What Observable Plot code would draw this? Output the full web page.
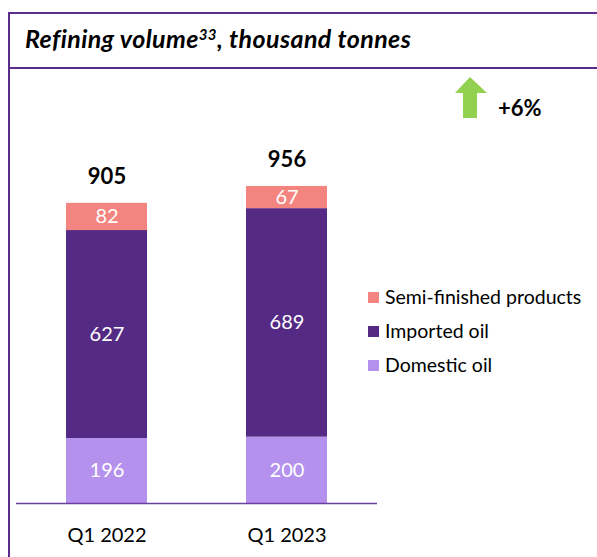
<!DOCTYPE html>
<html>
<head>
<meta charset="utf-8">
<script src="https://cdn.jsdelivr.net/npm/d3@7"></script>
<script src="https://cdn.jsdelivr.net/npm/@observablehq/plot@0.6"></script>
<style>
  html, body { margin: 0; padding: 0; background: #fff; }
  body { width: 597px; height: 557px; position: relative; overflow: hidden; font-family: Lato, "Open Sans", sans-serif; }
  .line { position: absolute; background: #5A2D8C; }
  #title { position: absolute; left: 25px; top: 26px; font-size: 25px; letter-spacing: 0.4px; line-height: 1; font-weight: bold; font-style: italic; color: #000; white-space: nowrap; }
  #title sup { font-size: 0.6em; vertical-align: 0; position: relative; top: -0.55em; }
  #chart { position: absolute; left: 10px; top: 69px; }
  #legend { position: absolute; left: 368px; top: 286px; font-size: 19.5px; color: #000; }
  .item { position: absolute; left: 0; white-space: nowrap; height: 24px; }
  .sw { position: absolute; left: 0; top: 6px; width: 11px; height: 11px; }
  .lab { position: absolute; left: 17px; top: 1px; line-height: 1; }
  #arrow { position: absolute; left: 0; top: 0; }
  #growth { position: absolute; left: 498px; top: 97px; font-size: 22px; font-weight: bold; line-height: 1; }
</style>
</head>
<body>
<div class="line" style="left:8px; top:12px; right:0; height:2px;"></div>
<div class="line" style="left:8px; top:12px; width:2px; bottom:0;"></div>
<div class="line" style="left:8px; top:67px; right:0; height:2px;"></div>
<div id="title">Refining volume<sup>33</sup>, thousand tonnes</div>
<div id="chart"></div>
<div id="legend"></div>
<svg id="arrow" width="597" height="557"><polygon points="470,77 487,93 477,93 477,118 463,118 463,93 455,93" fill="#92D050"/></svg>
<div id="growth">+6%</div>
<script>
const periods = ["Q1 2022", "Q1 2023"];
const seriesNames = ["Domestic oil", "Imported oil", "Semi-finished products"];
const domesticOil = [196, 200];
const importedOil = [627, 689];
const semiFinished = [82, 67];
const seriesColors = ["#B591EE", "#552A84", "#F4847F"];
const legendOrder = ["Semi-finished products", "Imported oil", "Domestic oil"];

const seriesValues = [domesticOil, importedOil, semiFinished];
const data = [];
seriesNames.forEach((s, si) => {
  periods.forEach((p, pi) => data.push({period: p, series: s, value: seriesValues[si][pi]}));
});

const chart = Plot.plot({
  width: 587,
  height: 488,
  marginLeft: 6,
  marginRight: 220,
  marginTop: 36,
  marginBottom: 54,
  style: {fontFamily: "Lato, 'Open Sans', sans-serif", background: "transparent", overflow: "visible"},
  x: {domain: periods, paddingInner: 0.548, paddingOuter: 0.2726, label: null},
  y: {domain: [0, 1200], axis: null},
  color: {domain: seriesNames, range: seriesColors},
  marks: [
    Plot.barY(data, {x: "period", y: "value", fill: "series", z: "series"}),
    Plot.text(data, Plot.stackY({x: "period", y: "value", z: "series", text: "value", fill: "white", fontSize: 20})),
    Plot.text(data, Plot.groupX({y: "sum", text: "sum"}, {x: "period", y: "value", text: "value", dy: -26, fontSize: 22, fontWeight: "bold", fill: "black"})),
    Plot.ruleY([0], {stroke: "#6A3FA0", strokeWidth: 1.5}),
    Plot.axisX({tickSize: 0, tickPadding: 24, fontSize: 20, fill: "black", label: null})
  ]
});
document.getElementById("chart").appendChild(chart);

const legend = document.getElementById("legend");
legendOrder.forEach((name, i) => {
  const item = document.createElement("div");
  item.className = "item";
  item.style.top = (i * 34) + "px";
  const sw = document.createElement("div");
  sw.className = "sw";
  sw.style.background = seriesColors[seriesNames.indexOf(name)];
  const lab = document.createElement("div");
  lab.className = "lab";
  lab.textContent = name;
  item.appendChild(sw);
  item.appendChild(lab);
  legend.appendChild(item);
});
</script>
</body>
</html>
